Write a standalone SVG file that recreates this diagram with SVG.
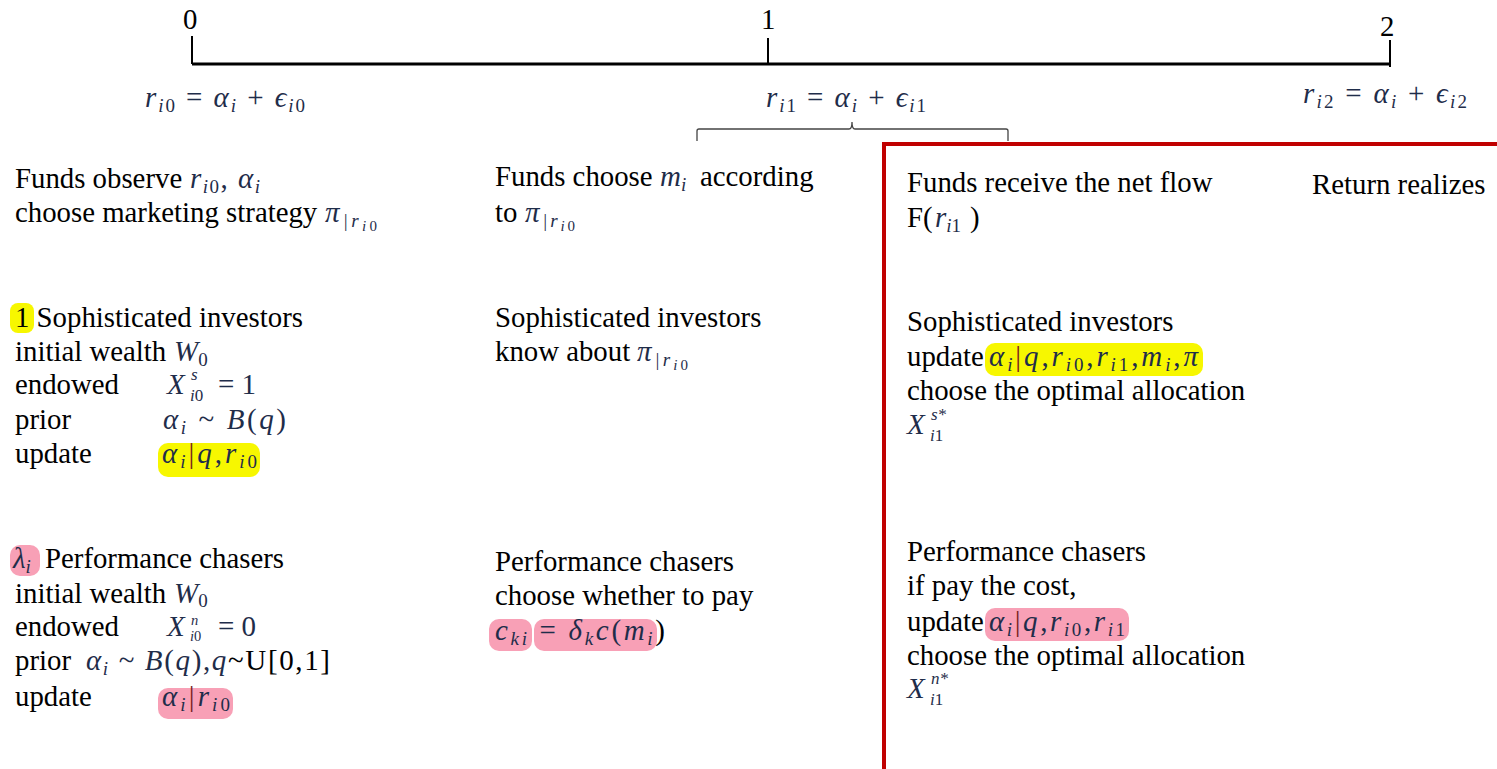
<svg xmlns="http://www.w3.org/2000/svg" width="1497" height="769" viewBox="0 0 1497 769">
<style>
text{font-family:"Liberation Serif","Times New Roman",serif;font-size:28.8px;fill:#000}
.m{font-style:italic;fill:#1f2d4a;font-size:29px}
.s{font-size:19px}
.ss{font-size:15px}
.sc{font-size:17px;font-style:italic;fill:#1f2d4a}
.sc2{font-size:14.5px;font-style:italic;fill:#1f2d4a}
.u{font-style:normal}
.bar{fill:#7a1f1f;font-style:normal}
.hy{fill:#f7f700}
.hp{fill:#f8a0b6}
.axis{stroke:#000;fill:none}
</style>
<rect width="1497" height="769" fill="#fff"/>
<g id="timeline">
<line class="axis" x1="192" y1="64" x2="1391" y2="64" stroke-width="3"/>
<line class="axis" x1="192" y1="36" x2="192" y2="64" stroke-width="2"/>
<line class="axis" x1="768" y1="38" x2="768" y2="64" stroke-width="2"/>
<line class="axis" x1="1390" y1="40" x2="1390" y2="67" stroke-width="2"/>
<text x="183" y="29" font-size="26">0</text>
<text x="761" y="29" font-size="26">1</text>
<text x="1380" y="36" font-size="26">2</text>
<text x="145" y="107" class="m" textLength="160">r<tspan class="s" dy="5">i</tspan><tspan class="s u">0</tspan><tspan dy="-5" class="u"> = </tspan>α<tspan class="s" dy="5">i</tspan><tspan dy="-5" class="u"> + </tspan>ϵ<tspan class="s" dy="5">i</tspan><tspan class="s u">0</tspan></text>
<text x="766" y="107" class="m" textLength="160">r<tspan class="s" dy="5">i</tspan><tspan class="s u">1</tspan><tspan dy="-5" class="u"> = </tspan>α<tspan class="s" dy="5">i</tspan><tspan dy="-5" class="u"> + </tspan>ϵ<tspan class="s" dy="5">i</tspan><tspan class="s u">1</tspan></text>
<text x="1303" y="103" class="m" textLength="164">r<tspan class="s" dy="5">i</tspan><tspan class="s u">2</tspan><tspan dy="-5" class="u"> = </tspan>α<tspan class="s" dy="5">i</tspan><tspan dy="-5" class="u"> + </tspan>ϵ<tspan class="s" dy="5">i</tspan><tspan class="s u">2</tspan></text>
<path d="M697,141 V131 Q697,129 699,129 H849 Q852,129 852,122 Q852,129 855,129 H1006 Q1008,129 1008,131 V141" stroke="#444" stroke-width="1.3" fill="none"/>
</g>
<g id="period1-box">
<rect x="884" y="144" width="640" height="660" fill="none" stroke="#c00000" stroke-width="4"/>
</g>
<g id="col0">
<text x="15" y="188">Funds observe</text>
<text x="190" y="188" class="m" textLength="70">r<tspan class="s" dy="5">i</tspan><tspan class="s u">0</tspan><tspan dy="-5" class="u">, </tspan>α<tspan class="s" dy="5">i</tspan></text>
<text x="15" y="222">choose marketing strategy</text>
<text x="325" y="222" class="m" textLength="52">π<tspan class="s" dy="5">|r</tspan><tspan class="ss" dy="4">i</tspan><tspan class="ss u">0</tspan></text>
<rect class="hy" x="10" y="303" width="24" height="30" rx="8"/>
<text x="15" y="327">1 Sophisticated investors</text>
<text x="15" y="361">initial wealth</text>
<text x="174" y="361" class="m">W<tspan class="s u" dy="5">0</tspan></text>
<text x="15" y="394">endowed</text>
<text x="167" y="394" class="m">X</text>
<text x="191" y="380" class="sc">s</text>
<text x="190" y="401" class="sc">i<tspan class="u">0</tspan></text>
<text x="218" y="394" class="m u">= 1</text>
<text x="15" y="429">prior</text>
<text x="163" y="429" class="m" textLength="123">α<tspan class="s" dy="5">i</tspan><tspan class="u" dy="-5"> ~ </tspan>B<tspan class="u">(</tspan>q<tspan class="u">)</tspan></text>
<rect class="hy" x="158" y="443" width="102" height="34" rx="10"/>
<text x="15" y="463">update</text>
<text x="162" y="463" class="m" textLength="95">α<tspan class="s" dy="5">i</tspan><tspan class="bar" dy="-5">|</tspan>q<tspan class="u">,</tspan>r<tspan class="s" dy="5">i</tspan><tspan class="s u">0</tspan></text>
<rect class="hp" x="10" y="545" width="30" height="31" rx="10"/>
<text x="13" y="568" class="m">λ<tspan class="s" dy="5">i</tspan></text>
<text x="45" y="568">Performance chasers</text>
<text x="15" y="603">initial wealth</text>
<text x="174" y="603" class="m">W<tspan class="s u" dy="4">0</tspan></text>
<text x="15" y="636">endowed</text>
<text x="167" y="636" class="m">X</text>
<text x="191" y="624.5" class="sc2">n</text>
<text x="190" y="640.5" class="sc2">i<tspan class="u">0</tspan></text>
<text x="218" y="636" class="m u">= 0</text>
<text x="15" y="670">prior</text>
<text x="86" y="670" class="m" textLength="244">α<tspan class="s" dy="5">i</tspan><tspan class="u" dy="-5"> ~ </tspan>B<tspan class="u">(</tspan>q<tspan class="u">),</tspan>q<tspan class="u" fill="#000">~U[0,1]</tspan></text>
<rect class="hp" x="158" y="688" width="75" height="31" rx="10"/>
<text x="15" y="706">update</text>
<text x="162" y="706" class="m" textLength="68">α<tspan class="s" dy="5">i</tspan><tspan class="bar" dy="-5">|</tspan>r<tspan class="s" dy="5">i</tspan><tspan class="s u">0</tspan></text>
</g>
<g id="col1">
<text x="495" y="186">Funds choose</text>
<text x="660" y="186" class="m">m<tspan class="s" dy="5">i</tspan></text>
<text x="700" y="186">according</text>
<text x="495" y="222">to</text>
<text x="525" y="222" class="m" textLength="50">π<tspan class="s" dy="5">|r</tspan><tspan class="ss" dy="4">i</tspan><tspan class="ss u">0</tspan></text>
<text x="495" y="327">Sophisticated investors</text>
<text x="495" y="361">know about</text>
<text x="637" y="361" class="m" textLength="51">π<tspan class="s" dy="5">|r</tspan><tspan class="ss" dy="4">i</tspan><tspan class="ss u">0</tspan></text>
<text x="495" y="571">Performance chasers</text>
<text x="495" y="605">choose whether to pay</text>
<rect class="hp" x="489" y="619" width="43" height="32" rx="10"/>
<rect class="hp" x="534" y="619" width="123" height="32" rx="10"/>
<text x="495" y="640" class="m" textLength="170">c<tspan class="s" dy="5">ki</tspan><tspan class="u" dy="-5"> = </tspan>δ<tspan class="s" dy="5">k</tspan><tspan dy="-5">c</tspan><tspan class="u">(</tspan>m<tspan class="s" dy="5">i</tspan><tspan class="u" dy="-5" fill="#000">)</tspan></text>
</g>
<g id="col2">
<text x="907" y="192">Funds receive the net flow</text>
<text x="907" y="227">F(</text>
<text x="935" y="227" class="m">r<tspan class="s" dy="5">i</tspan><tspan class="s u">1</tspan></text>
<text x="970" y="227">)</text>
<text x="907" y="331">Sophisticated investors</text>
<rect class="hy" x="985" y="343" width="218" height="33" rx="10"/>
<text x="907" y="366">update</text>
<text x="989" y="366" class="m" textLength="209">α<tspan class="s" dy="5">i</tspan><tspan class="bar" dy="-5">|</tspan>q<tspan class="u">,</tspan>r<tspan class="s" dy="5">i</tspan><tspan class="s u">0</tspan><tspan class="u" dy="-5">,</tspan>r<tspan class="s" dy="5">i</tspan><tspan class="s u">1</tspan><tspan class="u" dy="-5">,</tspan>m<tspan class="s" dy="5">i</tspan><tspan class="u" dy="-5">,</tspan>π</text>
<text x="907" y="400">choose the optimal allocation</text>
<text x="907" y="434" class="m">X</text>
<text x="931" y="420" class="sc">s*</text>
<text x="930" y="441" class="sc">i<tspan class="u">1</tspan></text>
<text x="907" y="561">Performance chasers</text>
<text x="907" y="595">if pay the cost,</text>
<rect class="hp" x="985" y="608" width="144" height="33" rx="10"/>
<text x="907" y="631">update</text>
<text x="989" y="631" class="m" textLength="136">α<tspan class="s" dy="5">i</tspan><tspan class="bar" dy="-5">|</tspan>q<tspan class="u">,</tspan>r<tspan class="s" dy="5">i</tspan><tspan class="s u">0</tspan><tspan class="u" dy="-5">,</tspan>r<tspan class="s" dy="5">i</tspan><tspan class="s u">1</tspan></text>
<text x="907" y="665">choose the optimal allocation</text>
<text x="907" y="698" class="m">X</text>
<text x="931" y="684" class="sc">n*</text>
<text x="930" y="705" class="sc">i<tspan class="u">1</tspan></text>
</g>
<g id="col3">
<text x="1312" y="194">Return realizes</text>
</g>
</svg>
